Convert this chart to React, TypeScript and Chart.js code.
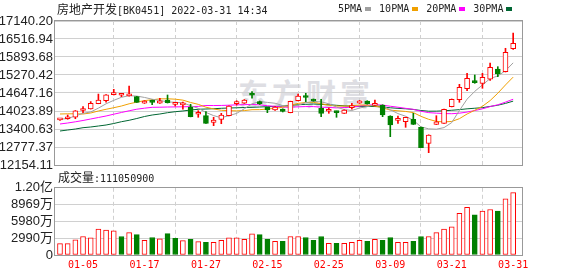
import React, { useEffect, useRef } from 'react';
import { Chart, registerables } from 'chart.js';

Chart.register(...registerables);

// ---------- data ----------
const dates = ['12-30','12-31','01-04','01-05','01-06','01-07','01-10','01-11','01-12','01-13','01-14','01-17','01-18','01-19','01-20','01-21','01-24','01-25','01-26','01-27','01-28','02-07','02-08','02-09','02-10','02-11','02-14','02-15','02-16','02-17','02-18','02-21','02-22','02-23','02-24','02-25','02-28','03-01','03-02','03-03','03-04','03-07','03-08','03-09','03-10','03-11','03-14','03-15','03-16','03-17','03-18','03-21','03-22','03-23','03-24','03-25','03-28','03-29','03-30','03-31'];

const opens = [13715,13757,13806,14040,14093,14280,14380,14590,14570,14545,14519,14295,14330,14291,14405,14255,14235,14152,13910,13861,13632,13736,13861,14280,14291,14585,14346,14152,14058,14093,13965,14380,14500,14429,14117,14015,14013,13944,14138,14291,14370,14221,14232,13851,13700,13653,13736,13459,12905,13563,13598,14173,14415,14796,15020,14983,15122,15478,15385,16181];
const highs = [13750,13885,14040,14175,14350,14610,14590,14775,14636,14890,14530,14385,14405,14464,14578,14311,14335,14256,14034,14000,13806,13944,14200,14380,14420,14692,14370,14160,14180,14100,14365,14612,14637,14440,14429,14130,14020,14065,14291,14390,14380,14405,14240,13860,13851,13810,13944,13470,13200,13861,14090,14440,14948,15329,15271,15329,15686,15558,16195,16725];
const lows = [13700,13737,13757,13970,14090,14275,14330,14578,14520,14540,14320,14285,14245,14285,14300,14197,14083,13820,13806,13590,13515,13584,13850,14230,14285,14464,14250,13965,14040,13990,13960,14375,14346,14360,13827,13944,13806,13940,14083,14285,14260,14215,13827,13134,13598,13459,13555,12750,12580,13555,13590,14165,14325,14727,14983,14810,15080,15212,15374,16153];
const closes = [13740,13826,14034,14060,14290,14405,14580,14630,14585,14580,14325,14350,14320,14380,14311,14270,14250,13827,13930,13598,13712,13885,14197,14310,14405,14570,14266,14058,14162,14013,14359,14543,14490,14370,13944,14030,13965,14058,14208,14380,14266,14266,13885,13539,13715,13806,13563,12753,13193,13653,14083,14432,14844,15156,15005,15191,15537,15305,16056,16368];

// volume in 万 (10,000 shares)
const volumes = [2028,2028,2721,3293,3067,4627,4454,4280,3293,3986,3639,2600,3119,2894,3813,2946,2547,2773,2374,2253,2253,2600,3067,3067,2773,3760,3639,2773,2426,2426,3293,3293,3119,2600,3293,2080,2080,2080,2253,2600,2426,2773,2600,3119,2253,2253,2426,3293,3293,3986,4627,5026,7400,8492,7157,7799,8093,7799,9999,11105.09];
// 1 = red (rise) volume bar, 0 = green
const volumeUp = [1,1,1,1,1,1,1,1,0,1, 0,1,0,1,0,0,1,0,1,0, 1,1,1,1,1,1,0,0,1,0, 1,1,0,0,0,1,0,1,1,1, 0,1,0,0,1,1,0,0,1,1, 1,1,1,1,0,1,1,0,1,1];

const ma5Head = [13736,13764,13851,13944];
const ma10Head = [13920,13927,13927,13920,13955,14024,14083,14138,14197];
const ma20Head = [13574,13608,13650,13695,13747,13799,13851,13913,13972,14031,14086,14121,14152,14155,14162,14166,14169,14176,14183];
const ma30Head = [13331,13366,13400,13446,13470,13504,13539,13591,13653,13702,13764,13833,13885,13920,13965,14000,14024,14058,14083,14093,14103,14117,14128,14135,14145,14152,14162,14173,14180];

const priceTicks = [12154.11,12777.37,13400.63,14023.89,14647.16,15270.42,15893.68,16516.94,17140.20];
const volumeTicks = [0,2990,5980,8969.6,11959.5];
const volumeTickLabels = ['0','2990万','5980万','8969万','1.20亿'];
const xTickLabels = ['01-05','01-17','01-27','02-15','02-25','03-09','03-21','03-31'];

const titleName = '房地产开发';
const titleCode = '[BK0451] 2022-03-31 14:34';
const maNames = ['5PMA','10PMA','20PMA','30PMA'];

// ---------- styles ----------
const RED = '#ff0000';
const GREEN = '#008000';
const MA_COLORS = ['#a0a0a0','#f0a000','#ff00ff','#006633'];
const GRID = '#d0d0d0';
const FRAME = '#999999';
const LABEL = '#222222';

function movingAverage(n: number, head: number[]) {
  return closes.map((_, i) => {
    if (i < n - 1) return head[i];
    let s = 0;
    for (let k = i - n + 1; k <= i; k++) s += closes[k];
    return s / n;
  });
}

const framePlugin = {
  id: 'frame',
  afterDraw(chart: any) {
    const { ctx, chartArea: a } = chart;
    ctx.save();
    ctx.strokeStyle = FRAME;
    ctx.lineWidth = 1;
    ctx.strokeRect(Math.round(a.left) - 0.5, Math.round(a.top) - 0.5, Math.round(a.right - a.left) + 1, Math.round(a.bottom - a.top) + 1);
    ctx.restore();
  },
};

const X_MIN = -0.65;
const X_MAX = 60.15;

export default function App() {
  const priceRef = useRef<HTMLCanvasElement>(null);
  const volRef = useRef<HTMLCanvasElement>(null);

  useEffect(() => {
    const idx = dates.map((_, i) => i);
    const up = (i: number) => closes[i] >= opens[i];
    const tickIdx = xTickLabels.map((l) => dates.indexOf(l));
    const mas = [
      movingAverage(5, ma5Head),
      movingAverage(10, ma10Head),
      movingAverage(20, ma20Head),
      movingAverage(30, ma30Head),
    ];

    const xScaleBase = (showLabels: boolean) => ({
      type: 'linear' as const,
      min: X_MIN,
      max: X_MAX,
      offset: false,
      afterBuildTicks: (s: any) => {
        s.ticks = tickIdx.map((v) => ({ value: v }));
      },
      afterFit: (s: any) => {
        s.height = showLabels ? 21 : 0;
      },
      grid: { color: GRID, drawTicks: false, lineWidth: 1 },
      border: { display: false, dash: [4, 3] },
      ticks: {
        display: showLabels,
        autoSkip: false,
        maxRotation: 0,
        padding: 4,
        color: RED,
        font: { family: "'DejaVu Sans Mono'", size: 10 },
        callback: (v: any) => dates[Math.round(Number(v))],
      },
    });

    const priceChart = new Chart(priceRef.current!, {
      type: 'bar',
      data: {
        datasets: [
          {
            type: 'bar',
            data: idx.map((i) => ({ x: i, y: [opens[i], closes[i]] })) as any,
            backgroundColor: idx.map((i) => (up(i) ? '#ffffff' : GREEN)),
            borderColor: idx.map((i) => (up(i) ? RED : GREEN)),
            borderWidth: 1,
            borderSkipped: false,
            barThickness: 5,
            minBarLength: 2,
            grouped: false,
            order: 0,
          } as any,
          {
            type: 'bar',
            data: idx.map((i) => ({ x: i, y: [lows[i], highs[i]] })) as any,
            backgroundColor: idx.map((i) => (up(i) ? RED : GREEN)),
            borderWidth: 0,
            barThickness: 1,
            grouped: false,
            order: 1,
          } as any,
          ...mas.map((m, k) => ({
            type: 'line' as const,
            data: idx.map((i) => ({ x: i, y: m[i] })),
            borderColor: MA_COLORS[k],
            borderWidth: 1,
            pointRadius: 0,
            tension: 0,
            order: 2 + k,
          })),
        ],
      },
      options: {
        responsive: false,
        animation: false,
        events: [],
        layout: { padding: { top: 21, right: 56, bottom: 15, left: 0 } },
        plugins: { legend: { display: false }, tooltip: { enabled: false } },
        scales: {
          x: xScaleBase(false) as any,
          y: {
            min: priceTicks[0],
            max: priceTicks[priceTicks.length - 1],
            afterBuildTicks: (s: any) => {
              s.ticks = priceTicks.map((v) => ({ value: v }));
            },
            afterFit: (s: any) => {
              s.width = 55;
            },
            grid: { color: GRID, drawTicks: false },
            border: { display: false },
            ticks: {
              autoSkip: false,
              padding: 2,
              color: LABEL,
              font: { family: "'Liberation Sans'", size: 13 },
              callback: (v: any) => Number(v).toFixed(2),
            },
          },
        },
      },
      plugins: [framePlugin],
    });

    const volChart = new Chart(volRef.current!, {
      type: 'bar',
      data: {
        datasets: [
          {
            data: idx.map((i) => ({ x: i, y: volumes[i] })) as any,
            backgroundColor: idx.map((i) => (volumeUp[i] ? '#ffffff' : GREEN)),
            borderColor: idx.map((i) => (volumeUp[i] ? RED : GREEN)),
            borderWidth: 1,
            borderSkipped: false,
            barThickness: 5,
            grouped: false,
          } as any,
        ],
      },
      options: {
        responsive: false,
        animation: false,
        events: [],
        layout: { padding: { top: 8, right: 56, bottom: 0, left: 0 } },
        plugins: { legend: { display: false }, tooltip: { enabled: false } },
        scales: {
          x: xScaleBase(true) as any,
          y: {
            min: 0,
            max: volumeTicks[volumeTicks.length - 1],
            afterBuildTicks: (s: any) => {
              s.ticks = volumeTicks.map((v) => ({ value: v }));
            },
            afterFit: (s: any) => {
              s.width = 55;
            },
            grid: { color: GRID, drawTicks: false },
            border: { display: false },
            ticks: {
              autoSkip: false,
              padding: 2,
              color: LABEL,
              font: { family: "'Liberation Sans', 'Noto Sans CJK SC'", size: 13 },
              callback: (_v: any, i: number) => volumeTickLabels[i],
            },
          },
        },
      },
      plugins: [framePlugin],
    });

    return () => {
      priceChart.destroy();
      volChart.destroy();
    };
  }, []);

  const cjk: React.CSSProperties = { fontFamily: "'Noto Sans CJK SC'", fontSize: 12 };
  const mono: React.CSSProperties = { fontFamily: "'DejaVu Sans Mono'", fontSize: 10 };
  const lastVolume = String(Math.round(volumes[volumes.length - 1] * 10000));

  return (
    <div style={{ position: 'fixed', left: 0, top: 0, width: 578, height: 276, background: '#fff', overflow: 'hidden', color: LABEL }}>
      <div style={{ position: 'absolute', left: 238, top: 70, fontFamily: "'Noto Sans CJK SC'", fontWeight: 700, fontSize: 30, letterSpacing: 4, color: '#dedee3', whiteSpace: 'nowrap' }}>东方财富</div>
      <canvas ref={priceRef} width={578} height={180} style={{ position: 'absolute', left: 0, top: 0 }} />
      <canvas ref={volRef} width={578} height={98} style={{ position: 'absolute', left: 0, top: 178 }} />
      <div style={{ position: 'absolute', left: 57, top: 1, lineHeight: '16px', whiteSpace: 'nowrap' }}>
        <span style={cjk}>{titleName}</span>
        <span style={mono}>{titleCode}</span>
      </div>
      <div style={{ position: 'absolute', left: 338, top: 2, height: 14, display: 'flex', alignItems: 'center', whiteSpace: 'nowrap' }}>
        {maNames.map((n, k) => (
          <React.Fragment key={n}>
            <span style={{ ...mono, lineHeight: '14px' }}>{n}</span>
            <span style={{ display: 'inline-block', width: 6, height: 4, background: MA_COLORS[k], marginLeft: 3, marginRight: k < 3 ? 8 : 0 }} />
          </React.Fragment>
        ))}
      </div>
      <div style={{ position: 'absolute', left: 58, top: 169, lineHeight: '16px', whiteSpace: 'nowrap' }}>
        <span style={cjk}>成交量</span>
        <span style={mono}>{':' + lastVolume}</span>
      </div>
    </div>
  );
}
